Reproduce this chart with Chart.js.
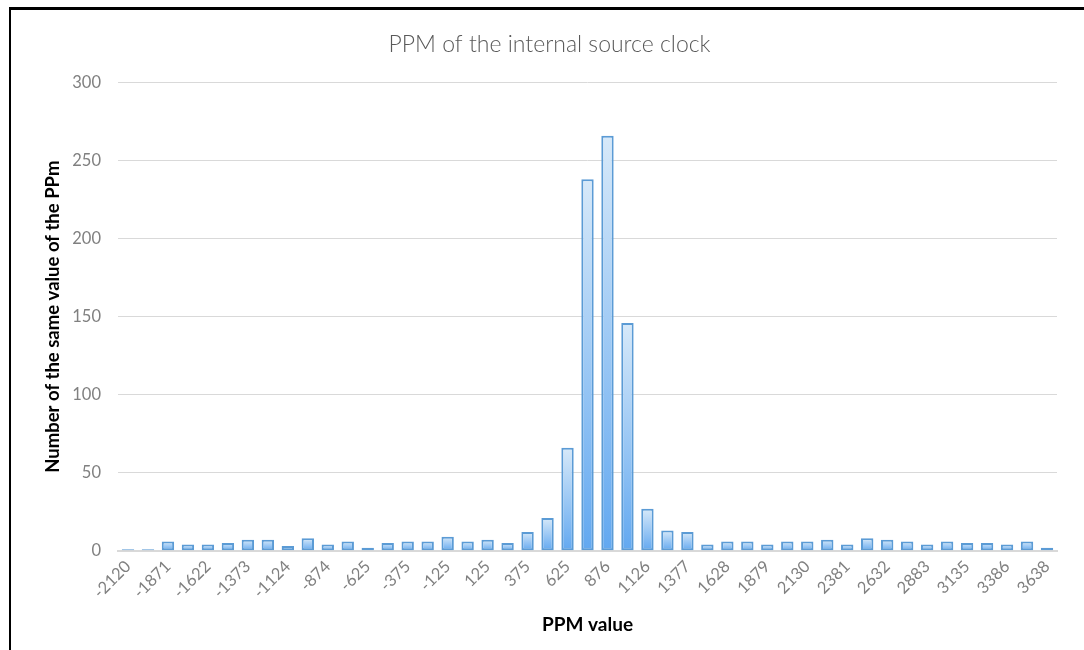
<!DOCTYPE html>
<html>
<head>
<meta charset="utf-8">
<script src="https://cdn.jsdelivr.net/npm/chart.js@4.4.1/dist/chart.umd.min.js"></script>
<style>
  html, body { margin: 0; padding: 0; background: #fff; }
  #wrap { position: relative; width: 1084px; height: 650px; overflow: hidden; }
  #frame {
    position: absolute; left: 9px; top: 7px; right: -10px; bottom: -10px;
    border-top: 3px solid #000; border-left: 2px solid #000;
    pointer-events: none;
  }
  canvas { position: absolute; left: 0; top: 0; }
</style>
</head>
<body>
<div id="wrap">
  <canvas id="chart" width="1084" height="650"></canvas>
  <div id="frame"></div>
</div>
<script>
// PPM bins (every other one is labelled on the axis)
const ppmBins = [
  -2120, -1995, -1871, -1746, -1622, -1497, -1373, -1248, -1124, -999,
  -874, -749, -625, -500, -375, -250, -125, 0, 125, 250,
  375, 500, 625, 751, 876, 1001, 1126, 1251, 1377, 1502,
  1628, 1753, 1879, 2004, 2130, 2255, 2381, 2506, 2632, 2757,
  2883, 3009, 3135, 3260, 3386, 3512, 3638
];
// how many times each PPM value was seen
const counts = [
  1, 1, 6, 4, 4, 5, 7, 7, 3, 8,
  4, 6, 2, 5, 6, 6, 9, 6, 7, 5,
  12, 21, 66, 238, 266, 146, 27, 13, 12, 4,
  6, 6, 4, 6, 6, 7, 4, 8, 7, 6,
  4, 6, 5, 5, 4, 6, 2
];
const yTicks = [0, 50, 100, 150, 200, 250, 300];

const titleText = "PPM of the internal source clock";
const xTitle = "PPM value";
const yTitle = "Number of the same value of the PPm";

const FONT = "Lato, Carlito, 'Open Sans', sans-serif";

// light at the top of each bar, stronger blue at the bottom
const barFill = (context) => {
  const chart = context.chart;
  if (!chart.chartArea || !chart.scales.y) return "#9cc8f2";
  const yScale = chart.scales.y;
  const top = yScale.getPixelForValue(context.raw);
  const base = yScale.getPixelForValue(0);
  if (!isFinite(top) || base - top < 1) return "#9cc8f2";
  const g = chart.ctx.createLinearGradient(0, top, 0, base);
  g.addColorStop(0, "#d7e9f9");
  g.addColorStop(1, "#62a8f0");
  return g;
};

const ctx = document.getElementById("chart");

new Chart(ctx, {
  type: "bar",
  data: {
    labels: ppmBins.map(String),
    datasets: [
      {
        data: counts,
        backgroundColor: barFill,
        borderColor: "#5b9bd5",
        borderWidth: 2,
        borderSkipped: false,
        barPercentage: 0.62,
        categoryPercentage: 1.0,
      },
    ],
  },
  options: {
    responsive: false,
    animation: false,
    layout: { padding: { left: 42, right: 27, top: 12, bottom: 14 } },
    plugins: {
      legend: { display: false },
      tooltip: { enabled: false },
      title: {
        display: true,
        text: titleText,
        color: "#595959",
        font: { family: FONT, size: 23, weight: 300 },
        padding: { top: 19, bottom: 24 },
      },
    },
    scales: {
      x: {
        // rotated first label may hang into the y axis area, like in Excel
        afterFit: (scale) => {
          scale.paddingLeft = 0;
          scale.paddingRight = 0;
        },
        grid: { display: false, drawTicks: false },
        border: { display: true, color: "#d9d9d9", width: 2 },
        ticks: {
          autoSkip: false,
          maxRotation: 45,
          minRotation: 45,
          color: "#808080",
          padding: 6,
          font: { family: FONT, size: 16.5 },
          callback: function (value, index) {
            return index % 2 === 0 ? this.getLabelForValue(value) : "";
          },
        },
        title: {
          display: true,
          text: xTitle,
          color: "#000",
          font: { family: FONT, size: 19, weight: "bold" },
          padding: { top: 5, bottom: 0 },
        },
      },
      y: {
        min: 0,
        max: 300,
        afterBuildTicks: (axis) => {
          axis.ticks = yTicks.map((v) => ({ value: v }));
        },
        // fixed width so the plot starts where Excel put it
        afterFit: (scale) => {
          scale.width = 76;
        },
        grid: { color: "#d9d9d9", lineWidth: 1, drawTicks: false },
        border: { display: false },
        ticks: {
          color: "#808080",
          padding: 17,
          font: { family: FONT, size: 16.5 },
        },
        title: {
          display: true,
          text: yTitle,
          color: "#000",
          font: { family: FONT, size: 18.5, weight: "bold" },
          padding: { top: 0, bottom: 0 },
        },
      },
    },
  },
});
</script>
</body>
</html>
